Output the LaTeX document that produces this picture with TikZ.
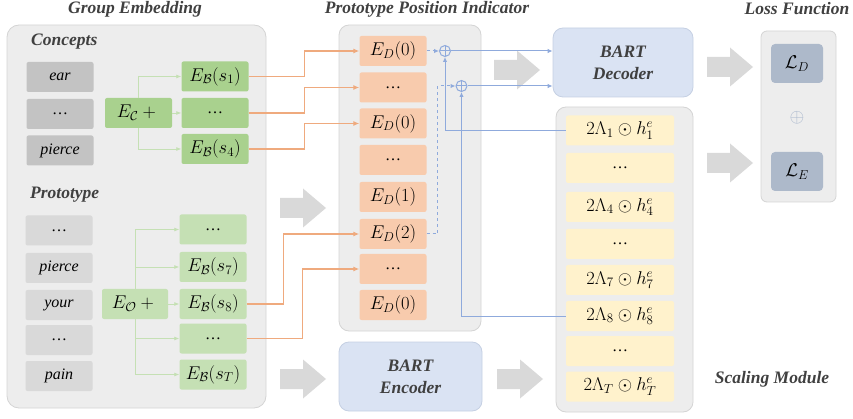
\RequirePackage{fix-cm}
\documentclass[tikz,border=0pt]{standalone}
\usepackage{fontspec}
\setmainfont{Liberation Serif}
\usetikzlibrary{arrows.meta}
\definecolor{panelfill}{HTML}{EDEDED}
\definecolor{paneldraw}{HTML}{D4D4D4}
\definecolor{cgray}{HTML}{C3C3C3}
\definecolor{pgray}{HTML}{D9D9D9}
\definecolor{gdark}{HTML}{A9D18E}
\definecolor{glight}{HTML}{C5E0B4}
\definecolor{gline}{HTML}{C5E0B4}
\definecolor{ofill}{HTML}{F8CBAD}
\definecolor{oline}{HTML}{EFAA7E}
\definecolor{bline}{HTML}{8FAADC}
\definecolor{bartfill}{HTML}{DAE3F3}
\definecolor{bartdraw}{HTML}{C5D0E3}
\definecolor{yfill}{HTML}{FFF2CC}
\definecolor{lfill}{HTML}{ADB9CA}
\definecolor{arrowgray}{HTML}{D9D9D9}
\definecolor{titlecol}{HTML}{404040}
\definecolor{oplusgray}{HTML}{A8B6CC}
\newcommand{\grayarr}[2]{\fill[arrowgray] (#1,#2-10) -- (#1+23,#2-10) -- (#1+23,#2-19.5) -- (#1+46,#2) -- (#1+23,#2+19.5) -- (#1+23,#2+10) -- (#1,#2+10) -- cycle;}
\begin{document}
\begin{tikzpicture}[x=1pt,y=-1pt,
  panel/.style={fill=panelfill, draw=paneldraw, line width=0.8pt, rounded corners=12pt},
  box/.style={rectangle, rounded corners=2pt, minimum width=67pt, minimum height=30pt, inner sep=0pt, font=\fontsize{16}{18}\selectfont},
  mathtxt/.style={font=\fontsize{18.5}{20}\selectfont},
  cbox/.style={box, fill=cgray},
  pbox/.style={box, fill=pgray},
  gbox/.style={box, fill=gdark},
  lgbox/.style={box, fill=glight},
  obox/.style={box, fill=ofill},
  ybox/.style={box, fill=yfill, minimum width=108pt},
  lbox/.style={box, fill=lfill, minimum width=52pt, minimum height=39pt, rounded corners=4pt},
  bart/.style={rectangle, fill=bartfill, draw=bartdraw, line width=0.8pt, rounded corners=10pt, align=center, text=titlecol, font=\fontsize{17.5}{22}\selectfont\bfseries\itshape},
  title/.style={font=\fontsize{17.5}{20}\selectfont\bfseries\itshape, text=titlecol, inner sep=0pt},
  garr/.style={draw=gline, line width=0.8pt, -{Latex[length=5pt,width=4pt]}},
  oarr/.style={draw=oline, line width=1.2pt, -{Latex[length=6pt,width=5pt]}},
  barr/.style={draw=bline, line width=1pt, -{Latex[length=5pt,width=4.5pt]}},
  bdash/.style={barr, dashed},
  oplusnode/.style={circle, draw=bline, line width=1pt, inner sep=0pt, minimum size=11pt,
    path picture={\draw[bline, line width=1pt] (path picture bounding box.north) -- (path picture bounding box.south) (path picture bounding box.west) -- (path picture bounding box.east);}}
]
\useasboundingbox (0,0) rectangle (853,419);

% panels
\draw[panel] (7,25) rectangle (266,408);
\draw[panel, rounded corners=10pt] (339,25) rectangle (481,331);
\draw[panel, rounded corners=10pt] (556,107) rectangle (693,412);
\draw[panel, rounded corners=6pt] (761,31) rectangle (836,202);

% gray block arrows
\grayarr{280}{208}
\grayarr{280}{379}
\grayarr{497}{379}
\grayarr{494}{70}
\grayarr{707}{67}
\grayarr{707}{163}

% titles
\node[title] (t1) at (135,9) {Group Embedding};
\node[title] (t2) at (427,9) {Prototype Position Indicator};
\node[title] (t3) at (797,9) {Loss Function};
\node[title, anchor=west] (t4) at (31,42) {Concepts};
\node[title, anchor=west] (t5) at (30,195) {Prototype};
\node[title] (t6) at (772,379) {Scaling Module};

% concepts
\node[cbox] (c1) at (60,77) {\itshape ear};
\node[cbox] (c2) at (60,114) {…};
\node[cbox] (c3) at (60,150.5) {\itshape pierce};
\node[gbox, mathtxt] (ec) at (138.5,113) {$E_{\mathcal{C}}+{}$};
\node[gbox, mathtxt] (b1) at (215,76.5) {$E_{\mathcal{B}}(s_1)$};
\node[gbox] (b2) at (215,113) {…};
\node[gbox, mathtxt] (b4) at (215,149) {$E_{\mathcal{B}}(s_4)$};

% prototype
\node[pbox] (q1) at (59,230.5) {…};
\node[pbox] (q2) at (59,268) {\itshape pierce};
\node[pbox] (q3) at (59,305) {\itshape your};
\node[pbox] (q4) at (59,340) {…};
\node[pbox] (q5) at (59,376) {\itshape pain};
\node[lgbox, mathtxt, minimum width=66pt] (eo) at (135,304) {$E_{\mathcal{O}}+{}$};
\node[lgbox] (p1) at (213,229.5) {…};
\node[lgbox, mathtxt] (p7) at (213,267) {$E_{\mathcal{B}}(s_7)$};
\node[lgbox, mathtxt] (p8) at (213,304) {$E_{\mathcal{B}}(s_8)$};
\node[lgbox] (p9) at (213,338.5) {…};
\node[lgbox, mathtxt] (pT) at (213,374.5) {$E_{\mathcal{B}}(s_T)$};

% PPI
\node[obox, mathtxt] (d1) at (393,51) {$E_D(0)$};
\node[obox] (d2) at (393,87.5) {…};
\node[obox, mathtxt] (d3) at (393,123.5) {$E_D(0)$};
\node[obox] (d4) at (393,160) {…};
\node[obox, mathtxt] (d5) at (393,197) {$E_D(1)$};
\node[obox, mathtxt] (d6) at (393,234) {$E_D(2)$};
\node[obox] (d7) at (393,269) {…};
\node[obox, mathtxt] (d8) at (393,305) {$E_D(0)$};

% BART
\node[bart, minimum width=140pt, minimum height=69pt] (dec) at (623,62.5) {BART\\Decoder};
\node[bart, minimum width=143pt, minimum height=69pt] (enc) at (410.5,376.5) {BART\\Encoder};

% scaling
\node[ybox, mathtxt] (s1) at (620,130.5) {$2\Lambda_1\odot h_1^e$};
\node[ybox] (s2) at (620,168) {…};
\node[ybox, mathtxt] (s4) at (620,207) {$2\Lambda_4\odot h_4^e$};
\node[ybox] (s5) at (620,244) {…};
\node[ybox, mathtxt] (s7) at (620,280) {$2\Lambda_7\odot h_7^e$};
\node[ybox, mathtxt] (s8) at (620,316) {$2\Lambda_8\odot h_8^e$};
\node[ybox] (s9) at (620,351) {…};
\node[ybox, mathtxt] (sT) at (620,386.5) {$2\Lambda_T\odot h_T^e$};

% loss
\node[lbox, mathtxt] (ld) at (797,63.5) {$\mathcal{L}_D$};
\node[lbox, mathtxt] (le) at (797,171.5) {$\mathcal{L}_E$};
\node[text=oplusgray, font=\fontsize{19}{20}\selectfont] (lplus) at (797,118) {$\oplus$};

% green connectors
\draw[garr] (ec.north) |- (b1.west);
\draw[garr] (ec.east) -- (b2.west);
\draw[garr] (ec.south) |- (b4.west);
\draw[garr] (eo.north) |- (p1.west);
\draw[garr] (eo.north) |- (p7.west);
\draw[garr] (eo.east) -- (p8.west);
\draw[garr] (eo.south) |- (p9.west);
\draw[garr] (eo.south) |- (pT.west);

% orange connectors
\draw[oarr] (b1.east) -- ++(56,0) |- (d1.west);
\draw[oarr] (b2.east) -- ++(56,0) |- (d2.west);
\draw[oarr] (b4.east) -- ++(56,0) |- (d3.west);
\draw[oarr] (p8.east) -- ++(37,0) |- (d6.west);
\draw[oarr] (p9.east) -- ++(55.5,0) |- (d7.west);

% blue connectors
\node[oplusnode] (plus1) at (445,51) {};
\node[oplusnode] (plus2) at (461.5,86) {};
\draw[bdash] (d1.east) -- (plus1.west);
\draw[bdash] (d6.east) -- ++(11,0) |- (plus2.west);
\draw[barr] (plus1.east) -- (plus1.east -| dec.west);
\draw[barr] (plus2.east) -- (plus2.east -| dec.west);
\draw[barr] (s1.west) -| (plus1.south);
\draw[barr] (s8.west) -| (plus2.south);
\end{tikzpicture}
\end{document}
